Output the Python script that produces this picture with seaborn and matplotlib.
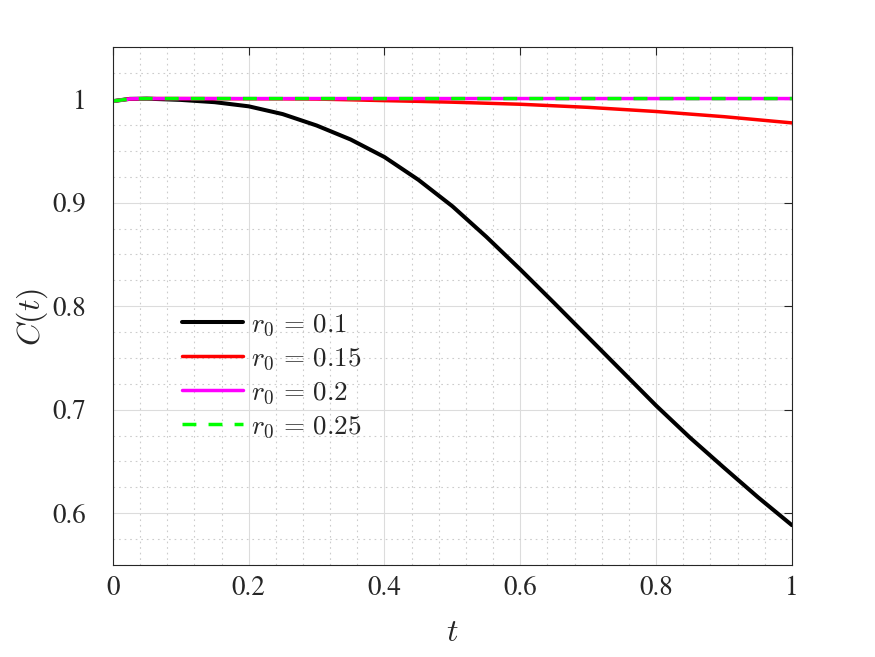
import numpy as np
import pandas as pd
import matplotlib
matplotlib.use('Agg')
import matplotlib.pyplot as plt
import seaborn as sns
from matplotlib.ticker import MultipleLocator, FuncFormatter

t = [0, 0.025, 0.05, 0.1, 0.15, 0.2, 0.25, 0.3, 0.35, 0.4, 0.45, 0.5,
     0.55, 0.6, 0.65, 0.7, 0.75, 0.8, 0.85, 0.9, 0.95, 1.0]

c_r010 = [0.998, 1.0002, 1.0004, 0.9992, 0.9970, 0.9930, 0.9855, 0.9745, 0.9610, 0.9440, 0.9220, 0.8965,
          0.8670, 0.8355, 0.8030, 0.7700, 0.7370, 0.7040, 0.6730, 0.6440, 0.6155, 0.5885]
c_r015 = [0.998, 1.0002, 1.0005, 1.0005, 1.0004, 1.0003, 1.0002, 1.0, 0.9993, 0.9985, 0.9978, 0.997,
          0.996, 0.995, 0.9935, 0.992, 0.990, 0.988, 0.9855, 0.983, 0.980, 0.977]
c_r020 = [0.998, 1.0002, 1.0005] + [1.0005] * 19
c_r025 = [0.998, 1.0002, 1.0005] + [1.0005] * 19

labels = [r'$r_0\,=\,0.1$', r'$r_0\,=\,0.15$', r'$r_0\,=\,0.2$', r'$r_0\,=\,0.25$']
colors = ['#000000', '#ff0000', '#ff00ff', '#00ff00']

sns.set_style('white')
plt.rcParams['font.family'] = ['TeX Gyre Termes', 'Liberation Serif', 'DejaVu Serif']
plt.rcParams['mathtext.fontset'] = 'cm'

fig = plt.figure(figsize=(8.75, 6.57), dpi=100)
ax = fig.add_axes([0.129, 0.140, 0.776, 0.788])

series = [c_r010, c_r015, c_r020, c_r025]
for vals, lab, col in zip(series, labels, colors):
    df = pd.DataFrame({'t': t, 'C': vals})
    sns.lineplot(data=df, x='t', y='C', ax=ax, color=col, label=lab,
                 linewidth=2.5 if col != '#000000' else 2.9)

ax.lines[-1].set_dashes([4, 3.5])

ax.set_xlim(0, 1)
ax.set_ylim(0.55, 1.05)
ax.xaxis.set_major_locator(MultipleLocator(0.2))
ax.xaxis.set_minor_locator(MultipleLocator(0.04))
ax.yaxis.set_major_locator(MultipleLocator(0.1))
ax.yaxis.set_minor_locator(MultipleLocator(0.025))

fmt = FuncFormatter(lambda v, p: '%g' % round(v, 3))
ax.xaxis.set_major_formatter(fmt)
ax.yaxis.set_major_formatter(fmt)

ax.grid(which='major', color='#dcdcdc', linestyle='-', linewidth=0.8)
ax.grid(which='minor', color='#cccccc', linestyle=(0, (1.5, 3.5)), linewidth=0.8)
ax.set_axisbelow(True)

ax.tick_params(which='both', direction='in', top=True, right=True, labelsize=19.5,
               color='#262626', labelcolor='#262626')
ax.tick_params(which='major', length=6, width=0.8)
ax.tick_params(which='minor', length=0)
ax.tick_params(axis='x', pad=8)
ax.tick_params(axis='y', pad=19)

for s in ax.spines.values():
    s.set_visible(True)
    s.set_color('#262626')
    s.set_linewidth(0.8)

ax.set_xlabel('$t$', fontsize=23, color='#262626')
ax.set_ylabel('$C(t)$', fontsize=23, color='#262626')
ax.xaxis.set_label_coords(0.5, -0.104)
ax.yaxis.set_label_coords(-0.092, 0.48)

ax.legend(loc='upper left', bbox_to_anchor=(0.066, 0.535), frameon=False,
          fontsize=19.5, handlelength=2.25, handletextpad=0.3, labelspacing=0.3)

fig.savefig('out.png', dpi=100)
